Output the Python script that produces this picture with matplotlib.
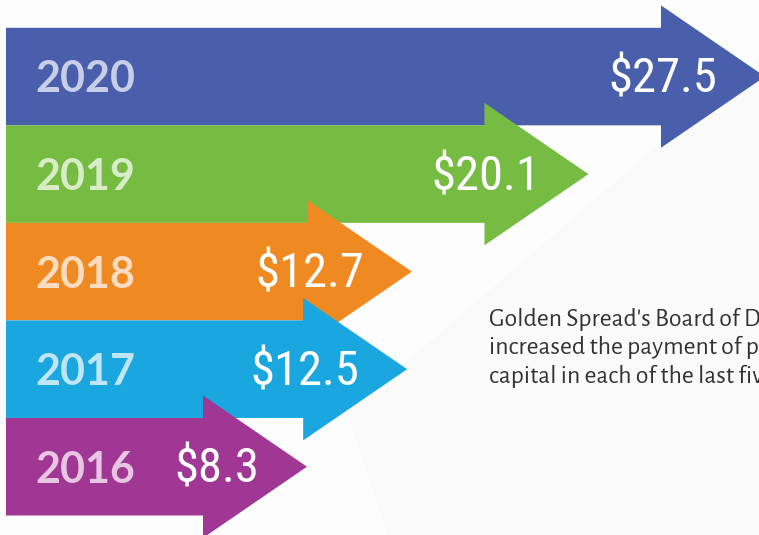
import matplotlib
matplotlib.use("Agg")
import matplotlib.pyplot as plt
from matplotlib.patches import Polygon
from matplotlib import font_manager

years = ["2020", "2019", "2018", "2017", "2016"]
values = [27.5, 20.1, 12.7, 12.5, 8.3]
value_labels = ["$27.5", "$20.1", "$12.7", "$12.5", "$8.3"]
colors = ["#4a5fab", "#76bc43", "#ef8a22", "#1aa7df", "#a03794"]
year_colors = ["#c9cee8", "#d8ecc8", "#fbdcc0", "#bfe5f6", "#e6c6e1"]
caption = ("Golden Spread's Board of Directors has\n"
           "increased the payment of patronage\n"
           "capital in each of the last five years.")

# pick a condensed face for the dollar values if one is around
names = {f.name for f in font_manager.fontManager.ttflist}
narrow = next((n for n in ["Roboto Condensed", "Open Sans Condensed", "Liberation Sans Narrow",
                           "PT Sans Narrow", "Fira Sans Condensed", "Lato"] if n in names), "DejaVu Sans")
body_font = next((n for n in ["Alegreya Sans", "Lato"] if n in names), "DejaVu Sans")

fig = plt.figure(figsize=(7.59, 5.35), dpi=100)
fig.patch.set_facecolor("#fdfdfd")
ax = fig.add_axes([0, 0, 1, 1])
ax.set_facecolor("#fdfdfd")
ax.set_xlim(-4.57, 27.25)
ax.set_ylim(4.70, -0.785)
ax.axis("off")

left = -4.32      # where every arrow body starts
head_len = 4.36   # arrow head length (value units)
half_body = 0.5
half_head = 0.73

# very faint shadow behind the arrows
ax.add_patch(Polygon([(10.0, 3.45), (27.3, -0.2), (27.3, 4.7), (11.7, 4.7)],
                     closed=True, facecolor="#fafafa", edgecolor="none", zorder=0))

for i, (yr, v, lab, c, yc) in enumerate(zip(years, values, value_labels, colors, year_colors)):
    hs = v - head_len
    pts = [(left, i - half_body), (hs, i - half_body), (hs, i - half_head), (v, i),
           (hs, i + half_head), (hs, i + half_body), (left, i + half_body)]
    ax.add_patch(Polygon(pts, closed=True, facecolor=c, edgecolor="none", zorder=1 + i))
    ax.text(-3.1, i + 0.03, yr, color=yc, fontsize=31, fontweight="bold",
            family="Lato", ha="left", va="center", zorder=10)
    ax.text(v - 2.0, i + 0.03, lab, color="white", fontsize=35, family=narrow,
            ha="right", va="center", zorder=10)

ax.text(15.95, 2.78, caption, color="#333333", fontsize=18.5, family=body_font,
        ha="left", va="center", linespacing=1.3, zorder=10)

fig.savefig("out.png", dpi=100, facecolor=fig.get_facecolor())
